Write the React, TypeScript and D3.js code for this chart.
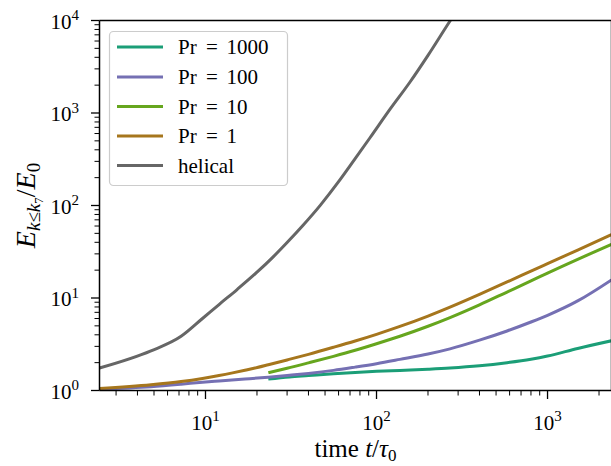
import React from "react";
import * as d3 from "d3";

const W = 611;
const H = 466;

const seriesNames = ["Pr = 1000", "Pr = 100", "Pr = 10", "Pr = 1", "helical"];
const seriesColors = ["#1b9e77", "#7570b3", "#66a61e", "#a6761d", "#666666"];

const tPr1000 = [23.3, 31, 40, 56, 75, 100, 137, 200, 269, 400, 580, 800, 1000, 1500, 2366];
const vPr1000 = [1.33, 1.4, 1.45, 1.52, 1.57, 1.61, 1.65, 1.7, 1.75, 1.85, 2.0, 2.18, 2.36, 2.85, 3.45];

const tPr100 = [2.4, 4.8, 7.2, 9.6, 12, 17, 23.3, 31, 40, 56, 75, 100, 137, 200, 269, 400, 580, 800, 1000, 1500, 2366];
const vPr100 = [1.04, 1.1, 1.17, 1.23, 1.27, 1.33, 1.39, 1.46, 1.53, 1.65, 1.79, 1.95, 2.17, 2.48, 2.82, 3.5, 4.4, 5.5, 6.5, 9.3, 15.7];

const tPr10 = [23.3, 30, 40, 56, 75, 100, 137, 200, 269, 400, 580, 800, 1000, 1500, 2366];
const vPr10 = [1.56, 1.74, 1.99, 2.34, 2.72, 3.2, 3.86, 4.95, 6.14, 8.43, 11.6, 15.3, 18.6, 26.2, 38.0];

const tPr1 = [2.4, 4.8, 7.2, 9.6, 12, 14.4, 17, 19.2, 23.3, 30, 40, 56, 75, 100, 137, 200, 269, 400, 580, 800, 1000, 1500, 2366];
const vPr1 = [1.05, 1.155, 1.25, 1.35, 1.45, 1.55, 1.655, 1.74, 1.9, 2.14, 2.46, 2.93, 3.43, 4.05, 4.93, 6.38, 7.97, 10.95, 14.9, 19.5, 23.5, 33.0, 48.4];

const tHelical = [2.4, 4.8, 7.2, 9.6, 12, 15.3, 20, 24.8, 30, 37.2, 47, 58.8, 75, 91.6, 120, 157, 200, 269, 300];
const vHelical = [1.75, 2.68, 3.85, 6.0, 8.5, 12.35, 19, 27.7, 39.8, 61.2, 101, 172, 321, 540, 1100, 2163, 4200, 9880, 13400];

const seriesT = [tPr1000, tPr100, tPr10, tPr1, tHelical];
const seriesV = [vPr1000, vPr100, vPr10, vPr1, vHelical];

const xMajor = [10, 100, 1000];
const xMajorExp = ["1", "2", "3"];
const yMajor = [1, 10, 100, 1000, 10000];
const yMajorExp = ["0", "1", "2", "3", "4"];

const FONT = "'Liberation Serif', 'Times New Roman', serif";

export default function App() {
  const left = 99.5;
  const right = 611.5;
  const top = 20.5;
  const bottom = 390.5;

  const x = d3.scaleLog().domain([2.4, 2366]).range([left, right]);
  const y = d3.scaleLog().domain([1, 10000]).range([bottom, top]);

  const xMinor: number[] = [];
  [1, 10, 100, 1000].forEach((d) => {
    for (let m = 2; m <= 9; m++) {
      const v = m * d;
      if (v >= 2.4 && v <= 2366) xMinor.push(v);
    }
  });
  const yMinor: number[] = [];
  [1, 10, 100, 1000].forEach((d) => {
    for (let m = 2; m <= 9; m++) yMinor.push(m * d);
  });

  const line = d3
    .line<[number, number]>()
    .x((p) => x(p[0]))
    .y((p) => y(p[1]))
    .curve(d3.curveMonotoneX);

  const legendX = 109.5;
  const legendY = 31.5;
  const rowY = [47, 77, 106.5, 136, 165.5];

  return (
    <svg
      width={W}
      height={H}
      style={{ position: "absolute", left: 0, top: 0, display: "block", background: "#fff" }}
      fontFamily={FONT}
    >
      <defs>
        <clipPath id="plotclip">
          <rect x={left} y={top} width={right - left} height={bottom - top} />
        </clipPath>
      </defs>
      <rect x={0} y={0} width={W} height={H} fill="#fff" />

      <g clipPath="url(#plotclip)">
        {seriesT.map((ts, i) => (
          <path
            key={i}
            d={line(ts.map((t, j) => [t, seriesV[i][j]] as [number, number])) || ""}
            fill="none"
            stroke={seriesColors[i]}
            strokeWidth={3}
            strokeLinejoin="round"
            strokeLinecap="butt"
          />
        ))}
      </g>

      {/* spines */}
      <g stroke="#000" strokeWidth={1.5} fill="none">
        <line x1={left} x2={left} y1={top} y2={bottom} />
        <line x1={left} x2={right} y1={bottom} y2={bottom} />
        <line x1={left} x2={right} y1={top} y2={top} />
        <line x1={right} x2={right} y1={top} y2={bottom} />
      </g>

      {/* ticks */}
      <g stroke="#000">
        {xMajor.map((v) => (
          <line key={"xM" + v} x1={x(v)} x2={x(v)} y1={bottom} y2={bottom + 8.5} strokeWidth={1.3} />
        ))}
        {xMinor.map((v) => (
          <line key={"xm" + v} x1={x(v)} x2={x(v)} y1={bottom} y2={bottom + 5} strokeWidth={1} />
        ))}
        {yMajor.map((v) => (
          <line key={"yM" + v} x1={left - 8.5} x2={left} y1={y(v)} y2={y(v)} strokeWidth={1.3} />
        ))}
        {yMinor.map((v) => (
          <line key={"ym" + v} x1={left - 5} x2={left} y1={y(v)} y2={y(v)} strokeWidth={1} />
        ))}
      </g>

      {/* x tick labels */}
      {xMajor.map((v, i) => (
        <text key={"xl" + v} x={x(v)} y={429.5} textAnchor="middle" fontSize={21} fill="#000">
          10
          <tspan fontSize={15} dy={-8.5}>
            {xMajorExp[i]}
          </tspan>
        </text>
      ))}

      {/* y tick labels */}
      {yMajor.map((v, i) => (
        <text key={"yl" + v} x={79} y={y(v) + 8} textAnchor="end" fontSize={21} fill="#000">
          10
          <tspan fontSize={15} dy={-8.5}>
            {yMajorExp[i]}
          </tspan>
        </text>
      ))}

      {/* x axis label */}
      <text x={(left + right) / 2} y={457} textAnchor="middle" fontSize={25} fill="#000">
        time <tspan fontStyle="italic">t</tspan>/<tspan fontStyle="italic">τ</tspan>
        <tspan fontSize={17} dy={4}>
          0
        </tspan>
      </text>

      {/* y axis label */}
      <g transform={`translate(35, ${(top + bottom) / 2}) rotate(-90)`}>
        <text x={0} y={0} textAnchor="middle" fontSize={28} fill="#000">
          <tspan fontStyle="italic">E</tspan>
          <tspan fontSize={19} dy={5}>
            <tspan fontStyle="italic">k</tspan>≤<tspan fontStyle="italic">k</tspan>
          </tspan>
          <tspan fontSize={13} dy={3}>
            7
          </tspan>
          <tspan fontSize={28} dy={-8}>
            /
          </tspan>
          <tspan fontStyle="italic">E</tspan>
          <tspan fontSize={19} dy={5}>
            0
          </tspan>
        </text>
      </g>

      {/* legend */}
      <rect
        x={legendX}
        y={legendY}
        width={178}
        height={154}
        rx={4}
        ry={4}
        fill="#fff"
        fillOpacity={0.8}
        stroke="#cccccc"
        strokeWidth={1.2}
      />
      {seriesNames.map((name, i) => {
        const isPr = name.startsWith("Pr");
        const num = isPr ? name.split("= ")[1] : "";
        return (
          <g key={"lg" + i}>
            <line x1={117} x2={163} y1={rowY[i]} y2={rowY[i]} stroke={seriesColors[i]} strokeWidth={3} />
            {isPr ? (
              <g fontSize={21} fill="#000">
                <text x={178} y={rowY[i] + 7}>Pr</text>
                <text x={206} y={rowY[i] + 7}>=</text>
                <text x={226.5} y={rowY[i] + 7}>{num}</text>
              </g>
            ) : (
              <text x={178} y={rowY[i] + 7} fontSize={21} fill="#000">
                {name}
              </text>
            )}
          </g>
        );
      })}
    </svg>
  );
}
